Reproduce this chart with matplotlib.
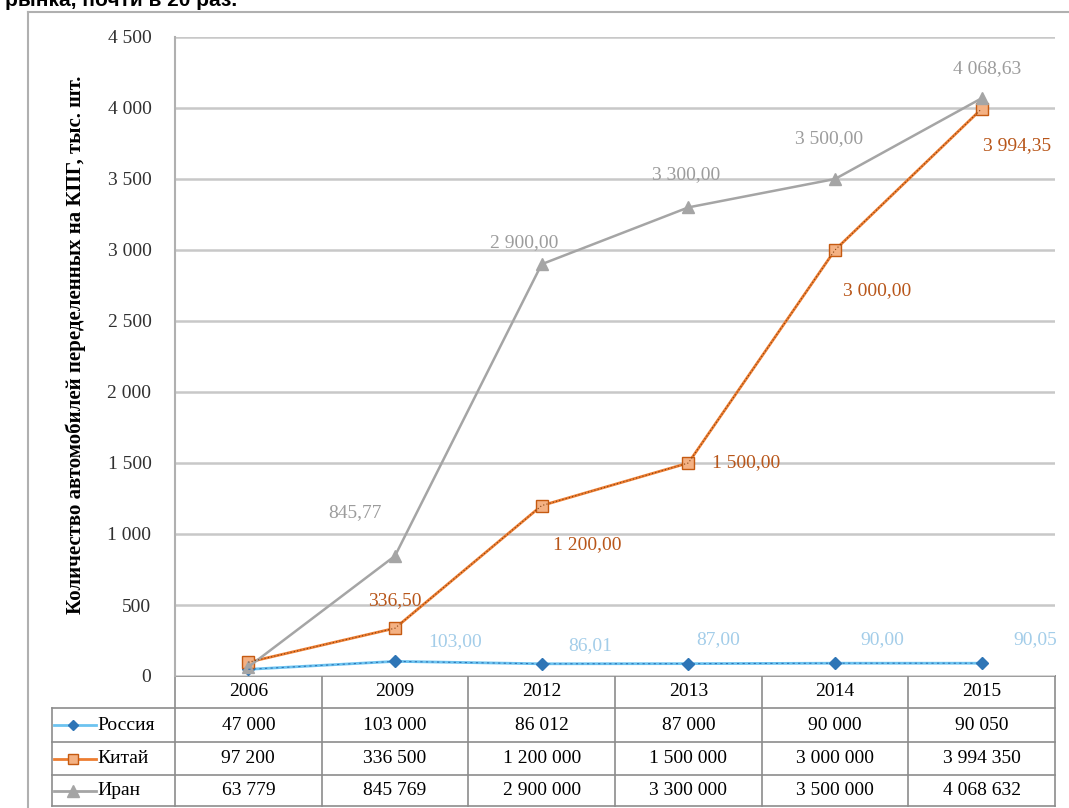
import matplotlib
matplotlib.use("Agg")
import matplotlib.pyplot as plt
from matplotlib.ticker import FuncFormatter, MultipleLocator

plt.rcParams['font.family'] = ['Liberation Serif', 'DejaVu Serif']

# ---- данные (шт.) ----
years = ["2006", "2009", "2012", "2013", "2014", "2015"]
russia = [47000, 103000, 86012, 87000, 90000, 90050]
china = [97200, 336500, 1200000, 1500000, 3000000, 3994350]
iran = [63779, 845769, 2900000, 3300000, 3500000, 4068632]
names = ["Россия", "Китай", "Иран"]
ylabel = "Количество автомобилей переделенных на КПГ, тыс. шт."
top_text = "рынка, почти в 20 раз."

W, H = 1069, 808
fig = plt.figure(figsize=(W / 100, H / 100), dpi=100)

# фоновая ось в пикселях для рамки и таблицы
bg = fig.add_axes([0, 0, 1, 1])
bg.set_xlim(0, W)
bg.set_ylim(H, 0)
bg.axis("off")

# положение области построения (пиксели)
x0, x1 = 175, 1055
y_top, y_bot = 37, 676
ax = fig.add_axes([x0 / W, 1 - y_bot / H, (x1 - x0) / W, (y_bot - y_top) / H])

ax.set_xlim(-0.5, len(years) - 0.5)
ax.set_ylim(0, 4500)
ax.yaxis.set_major_locator(MultipleLocator(500))
ax.yaxis.set_major_formatter(FuncFormatter(lambda v, p: f"{int(v):,}".replace(",", " ")))
ax.grid(axis="y", color="#c8c8c8", linewidth=1.8)
ax.set_axisbelow(True)
for s in ["top", "right", "bottom"]:
    ax.spines[s].set_visible(False)
ax.spines["left"].set_color("#b0b0b0")
ax.spines["left"].set_linewidth(1.5)
ax.tick_params(axis="y", length=0, labelsize=14, pad=17, labelcolor="#303030")
ax.tick_params(axis="x", length=0, labelbottom=False)

xs = list(range(len(years)))
to_k = lambda arr: [v / 1000 for v in arr]

styles = [
    dict(color="#6cc3f0", marker="D", ms=6, mfc="#2e75b6", mec="#2e75b6", lw=2.0, ls="-"),
    dict(color="#ed7d31", marker="s", ms=8, mfc="#f4b183", mec="#c55a11", lw=2.0, ls="-"),
    dict(color="#a5a5a5", marker="^", ms=9, mfc="#a5a5a5", mec="#a5a5a5", lw=1.8, ls="-"),
]
series = [russia, china, iran]
for data, st in zip(series, styles):
    ax.plot(xs, to_k(data), zorder=3, **st)
# пунктир поверх линий Китая и России
ax.plot(xs, to_k(china), color="#7f3f10", lw=0.8, ls=(0, (1, 2)), zorder=4)
ax.plot(xs, to_k(russia), color="#2e75b6", lw=0.8, ls=(0, (2, 3)), zorder=4)

def fmt_lbl(v):
    return f"{v / 1000:,.2f}".replace(",", " ").replace(".", ",")

lbl_colors = ["#a3cde9", "#b8561a", "#9c9c9c"]
# смещения подписей в пикселях (dx, dy вверх), подпись для 2006 не показана
offsets = [
    [None, (60, 20), (49, 18), (30, 24), (47, 24), (54, 24)],
    [None, (0, 28), (46, -39), (58, 0), (42, -41), (35, -37)],
    [None, (-40, 43), (-17, 22), (-2, 33), (-6, 40), (5, 30)],
]
for data, col, offs in zip(series, lbl_colors, offsets):
    for i, v in enumerate(data):
        if offs[i] is None:
            continue
        dx, dy = offs[i]
        ax.annotate(fmt_lbl(v), (i, v / 1000), xytext=(dx * 0.72, dy * 0.72),
                    textcoords="offset points", ha="center", va="center",
                    fontsize=14, color=col, zorder=5)

bg.text(76, 345, ylabel, rotation=90, ha="center", va="center",
        fontsize=15, fontweight="bold")

# рамка диаграммы
frame_c = "#b0b0b0"
bg.plot([28, W], [12, 12], color=frame_c, lw=1.5)
bg.plot([28, 28], [12, H], color=frame_c, lw=1.5)

# таблица данных
grid_c = "#8c8c8c"
col_w = (x1 - x0) / len(years)
row_y = [676, 708, 742, 775, 806]
lab_x0 = 52
# горизонтальные линии
bg.plot([x0, x1], [row_y[0], row_y[0]], color=grid_c, lw=1.2)
for y in row_y[1:]:
    bg.plot([lab_x0, x1], [y, y], color=grid_c, lw=1.2)
# вертикальные линии
for j in range(len(years) + 1):
    bg.plot([x0 + j * col_w] * 2, [row_y[0], row_y[-1]], color=grid_c, lw=1.2)
bg.plot([lab_x0, lab_x0], [row_y[1], row_y[-1]], color=grid_c, lw=1.2)

for j, yr in enumerate(years):
    bg.text(x0 + (j + 0.5) * col_w, (row_y[0] + row_y[1]) / 2, yr,
            ha="center", va="center", fontsize=14)
for r, (data, name, st) in enumerate(zip(series, names, styles)):
    yc = (row_y[r + 1] + row_y[r + 2]) / 2
    for j, v in enumerate(data):
        bg.text(x0 + (j + 0.5) * col_w, yc, f"{v:,}".replace(",", " "),
                ha="center", va="center", fontsize=14)
    bg.plot([54, 96], [yc, yc], color=st["color"], lw=2)
    bg.plot([73], [yc], marker=st["marker"], ms=st["ms"] - 1, mfc=st["mfc"],
            mec=st["mec"], ls="none")
    bg.text(97, yc, name, ha="left", va="center", fontsize=14)

fig.text(5 / W, 1 - 1 / H, top_text, ha="left", va="center", fontsize=15,
         family="Liberation Sans", fontweight="bold")

fig.savefig("out.png", dpi=100)
